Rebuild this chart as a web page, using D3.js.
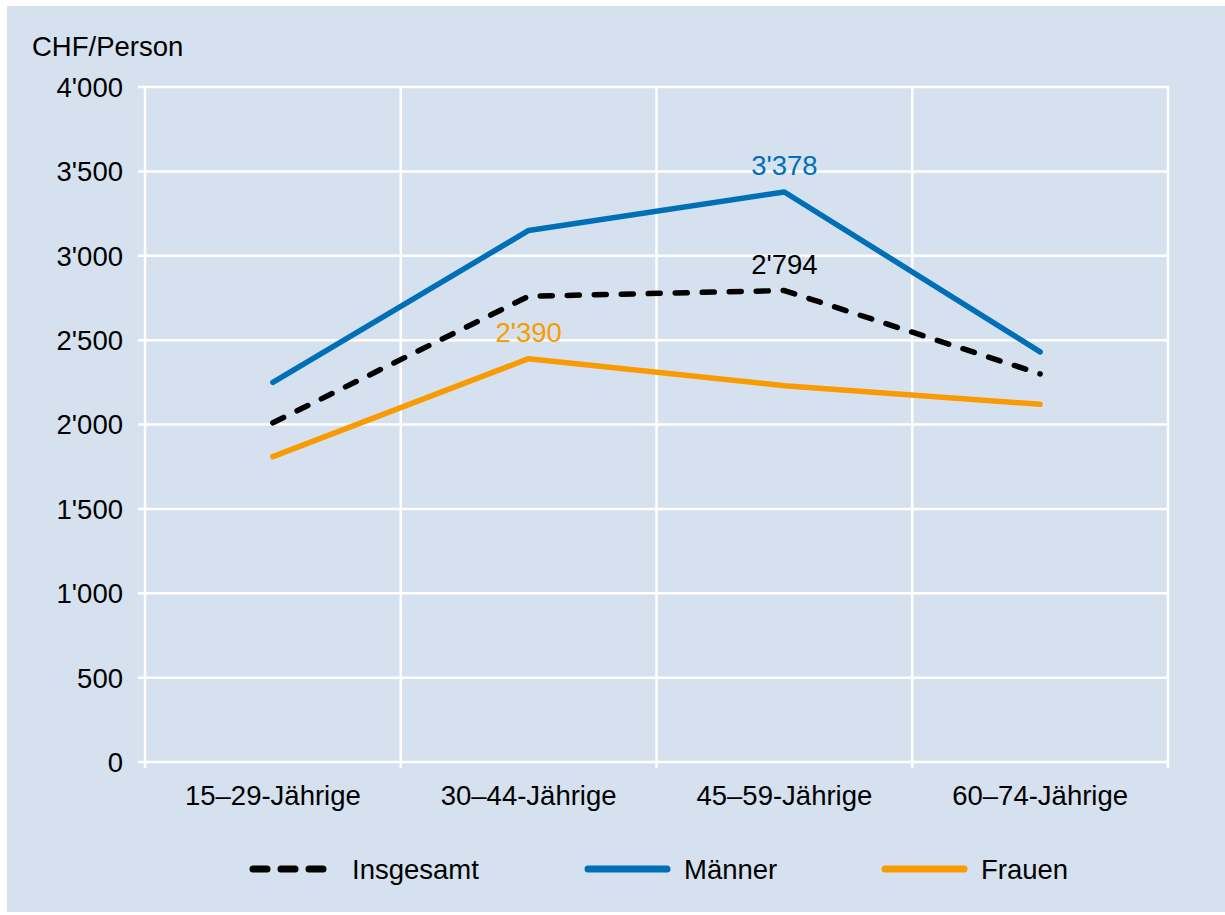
<!DOCTYPE html>
<html>
<head>
<meta charset="utf-8">
<script src="https://cdn.jsdelivr.net/npm/d3@7"></script>
<style>
    body { margin: 0; background: #fff; }
    svg { display: block; font-family: "Liberation Sans", Arial, sans-serif; }
</style>
</head>
<body>
<svg id="chart" width="1225" height="915"></svg>
<script>
// data
const categories = ['15–29-Jährige', '30–44-Jährige', '45–59-Jährige', '60–74-Jährige']
const insgesamt = [2010, 2760, 2794, 2300]
const maenner = [2250, 3150, 3378, 2430]
const frauen = [1810, 2390, 2230, 2120]
const yTicks = [0, 500, 1000, 1500, 2000, 2500, 3000, 3500, 4000]

const series = [
    { name: 'Insgesamt', values: insgesamt, color: '#000000', dash: '12,15', labelAt: 2 },
    { name: 'Männer', values: maenner, color: '#0070b6', dash: null, labelAt: 2 },
    { name: 'Frauen', values: frauen, color: '#f99b00', dash: null, labelAt: 1 }
]

const fontSize = '27.5px'

const svg = d3.select('#chart')
const margin = { left: 145, top: 87, right: 57, bottom: 153 }
const width = 1225 - margin.left - margin.right
const height = 915 - margin.top - margin.bottom

//background panel
svg.append('rect')
    .attr('x', 7).attr('y', 6)
    .attr('width', 1218).attr('height', 906)
    .attr('fill', '#d5e1ee')

const g = svg.append('g')
    .attr('transform', `translate(${margin.left}, ${margin.top})`)

const x = d3.scaleBand()
    .domain(categories)
    .range([0, width])

const y = d3.scaleLinear()
    .domain([0, 4000])
    .range([height, 0])

const fmt = v => {
    const s = String(v)
    return s.length > 3 ? s.slice(0, -3) + "'" + s.slice(-3) : s
}

//horizontal grid
g.selectAll('.hgrid')
    .data(yTicks)
    .enter().append('line')
    .attr('x1', -7).attr('x2', width)
    .attr('y1', d => y(d)).attr('y2', d => y(d))
    .attr('stroke', '#fff').attr('stroke-width', 2.5)

//vertical grid at category boundaries
const bounds = categories.map(c => x(c)).concat([width])
g.selectAll('.vgrid')
    .data(bounds)
    .enter().append('line')
    .attr('x1', d => d).attr('x2', d => d)
    .attr('y1', -1).attr('y2', height + 6)
    .attr('stroke', '#fff').attr('stroke-width', 2.5)

//y axis labels
g.selectAll('.ylab')
    .data(yTicks)
    .enter().append('text')
    .attr('x', -22)
    .attr('y', d => y(d))
    .attr('dy', '0.36em')
    .attr('text-anchor', 'end')
    .attr('font-size', fontSize)
    .attr('fill', '#000')
    .text(d => fmt(d))

svg.append('text')
    .attr('x', 32).attr('y', 56)
    .attr('font-size', fontSize)
    .text('CHF/Person')

//x axis labels
g.selectAll('.xlab')
    .data(categories)
    .enter().append('text')
    .attr('x', d => x(d) + x.bandwidth() / 2)
    .attr('y', height + 43)
    .attr('text-anchor', 'middle')
    .attr('font-size', fontSize)
    .text(d => d)

//lines
const line = d3.line()
    .x((d, i) => x(categories[i]) + x.bandwidth() / 2)
    .y(d => y(d))

series.forEach(s => {
    g.append('path')
        .datum(s.values)
        .attr('fill', 'none')
        .attr('stroke', s.color)
        .attr('stroke-width', 5.5)
        .attr('stroke-linecap', 'round')
        .attr('stroke-linejoin', 'round')
        .attr('stroke-dasharray', s.dash)
        .attr('d', line)

    const i = s.labelAt
    g.append('text')
        .attr('x', x(categories[i]) + x.bandwidth() / 2)
        .attr('y', y(s.values[i]) - 17)
        .attr('text-anchor', 'middle')
        .attr('font-size', fontSize)
        .attr('fill', s.color)
        .text(fmt(s.values[i]))
})

//legend
const legendX = [253, 588, 885]
const legend = svg.append('g')
    .attr('transform', 'translate(0, 869)')

series.forEach((s, i) => {
    legend.append('line')
        .attr('x1', legendX[i]).attr('x2', legendX[i] + (s.dash ? 75 : 79))
        .attr('y1', 0).attr('y2', 0)
        .attr('stroke', s.color)
        .attr('stroke-width', 7)
        .attr('stroke-linecap', 'round')
        .attr('stroke-dasharray', s.dash ? '14,14' : null)
    legend.append('text')
        .attr('x', legendX[i] + (i === 0 ? 99 : 96))
        .attr('y', 0)
        .attr('dy', '0.36em')
        .attr('font-size', fontSize)
        .text(s.name)
})
</script>
</body>
</html>
